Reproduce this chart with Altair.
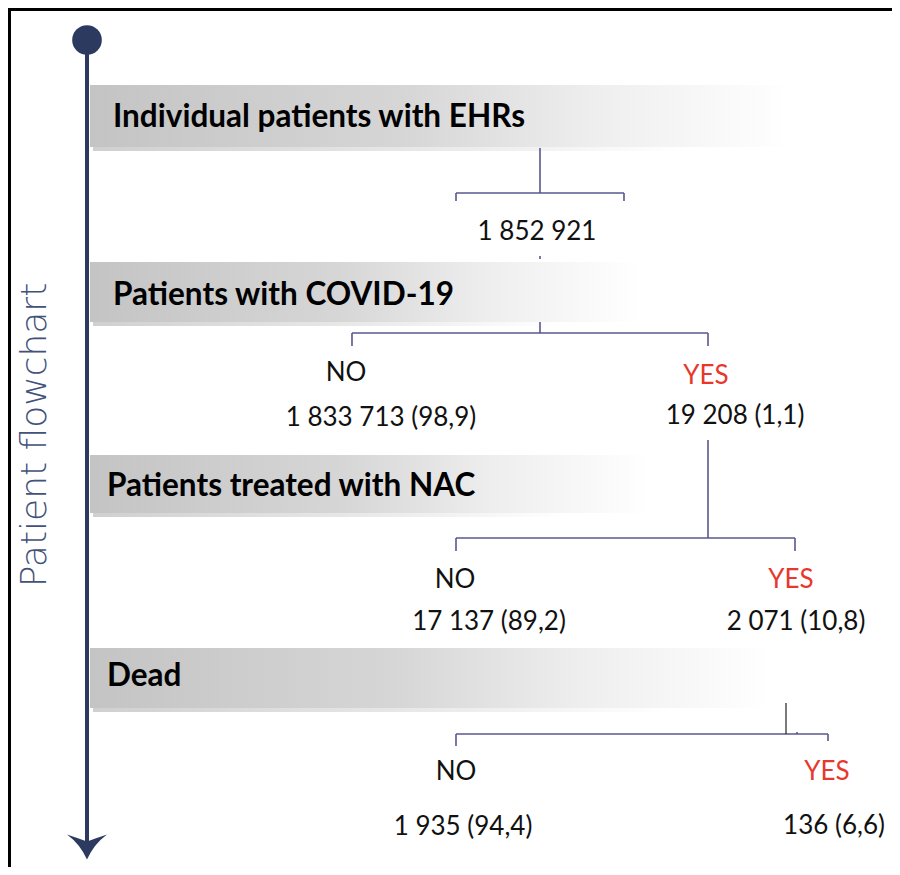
import altair as alt
import pandas as pd

# ---------------- content ----------------
steps = ["Individual patients with EHRs", "Patients with COVID-19",
         "Patients treated with NAC", "Dead"]
total_patients = 1852921
no_counts = [1833713, 17137, 1935]
no_pct = [98.9, 89.2, 94.4]
yes_counts = [19208, 2071, 136]
yes_pct = [1.1, 10.8, 6.6]
branch_labels = ["NO", "YES"]
side_title = "Patient flowchart"


def fmt_n(n):
    return f"{n:,}".replace(",", " ")


def fmt_p(p):
    return f"({p:.1f})".replace(".", ",")


# ---------------- layout (page pixel coordinates) ----------------
bar_top = [85, 262, 455, 648]
bar_bottom = [147, 322, 513, 708]
bar_left = 90
bar_right = [790, 640, 650, 770]
title_x = [113, 113, 107, 107]
title_y = [118, 296, 487, 677]

total_xy = (537, 232)
no_label_xy = [(346, 373), (455, 580), (456, 772)]
yes_label_xy = [(706, 376), (791, 580), (827, 772)]
no_count_xy = [(381, 418), (489, 622), (463, 827)]
yes_count_xy = [(735, 416), (796, 622), (834, 826)]

bracket_segments = [
    # bracket 1
    (540, 148, 540, 193), (456, 193, 624, 193), (456, 193, 456, 201), (624, 193, 624, 201),
    (540, 256, 540, 259),
    # bracket 2
    (540, 322, 540, 333), (352, 333, 708, 333), (352, 333, 352, 346), (708, 333, 708, 346),
    # bracket 3
    (708, 440, 708, 538), (456, 538, 795, 538), (456, 538, 456, 551), (795, 538, 795, 551),
    # bracket 4
    (456, 734, 828, 734), (456, 734, 456, 746), (828, 734, 828, 741), (797, 732, 797, 734),
]
black_stem = [(786, 703, 786, 734)]
border_rects = [(8, 8, 892, 11), (8, 8, 11, 867)]
axis_line = [(87, 40, 87, 848)]
circle_xy = [(87, 40)]
arrow_xy = [(87, 847)]
side_title_xy = (35, 435)

# ---------------- build tables ----------------
bars = pd.DataFrame({"x": [bar_left] * 4, "x2": bar_right, "y": bar_top, "y2": bar_bottom})
shadows = pd.DataFrame({"x": [bar_left + 3] * 4,
                        "x2": [bar_left + (r - bar_left) * 0.85 for r in bar_right],
                        "y": [b - 1 for b in bar_bottom],
                        "y2": [b + 4 for b in bar_bottom]})
titles = pd.DataFrame({"x": title_x, "y": title_y, "t": steps})

labels = []
for i in range(3):
    labels.append({"x": no_label_xy[i][0], "y": no_label_xy[i][1], "t": branch_labels[0], "k": "NO"})
    labels.append({"x": yes_label_xy[i][0], "y": yes_label_xy[i][1], "t": branch_labels[1], "k": "YES"})
labels = pd.DataFrame(labels)

counts = [{"x": total_xy[0], "y": total_xy[1], "t": fmt_n(total_patients)}]
for i in range(3):
    counts.append({"x": no_count_xy[i][0], "y": no_count_xy[i][1],
                   "t": f"{fmt_n(no_counts[i])} {fmt_p(no_pct[i])}"})
    counts.append({"x": yes_count_xy[i][0], "y": yes_count_xy[i][1],
                   "t": f"{fmt_n(yes_counts[i])} {fmt_p(yes_pct[i])}"})
counts = pd.DataFrame(counts)


def seg_df(segs):
    return pd.DataFrame(segs, columns=["x", "y", "x2", "y2"])


xs = alt.Scale(domain=[8, 892], zero=False, nice=False)
ys = alt.Scale(domain=[8, 867], zero=False, nice=False, reverse=True)
X = alt.X("x:Q", scale=xs, axis=None)
Y = alt.Y("y:Q", scale=ys, axis=None)
X2 = alt.X2("x2:Q")
Y2 = alt.Y2("y2:Q")

NAVY = "#2b3a5e"
BRACKET = "#58578e"
RED = "#e8372c"
TXT = "#111111"

bar_grad = alt.Gradient(
    gradient="linear", x1=0, x2=1, y1=0, y2=0,
    stops=[alt.GradientStop(offset=0, color="#c4c4c4"),
           alt.GradientStop(offset=0.45, color="#d6d6d6"),
           alt.GradientStop(offset=0.72, color="#eeeeee"),
           alt.GradientStop(offset=1, color="#ffffff")])
shadow_grad = alt.Gradient(
    gradient="linear", x1=0, x2=1, y1=0, y2=0,
    stops=[alt.GradientStop(offset=0, color="#a9a9a9"),
           alt.GradientStop(offset=0.6, color="#d9d9d9"),
           alt.GradientStop(offset=1, color="#ffffff")])

shadow_layer = alt.Chart(shadows).mark_rect(fill=shadow_grad, opacity=0.55).encode(x=X, x2=X2, y=Y, y2=Y2)
bar_layer = alt.Chart(bars).mark_rect(fill=bar_grad).encode(x=X, x2=X2, y=Y, y2=Y2)

border_layer = alt.Chart(seg_df(border_rects)).mark_rect(color="#000000", strokeWidth=0).encode(
    x=X, y=Y, x2=X2, y2=Y2)
line_layer = alt.Chart(seg_df(axis_line)).mark_rule(color=NAVY, strokeWidth=4).encode(
    x=X, y=Y, x2=X2, y2=Y2)
circle_layer = alt.Chart(pd.DataFrame(circle_xy, columns=["x", "y"])).mark_point(
    shape="circle", filled=True, size=880, color=NAVY, opacity=1).encode(x=X, y=Y)
arrow_path = ("M-1,-0.625 Q-0.35,-0.15 0,0.625 Q0.35,-0.15 1,-0.625 "
              "Q0.4,-0.42 0,-0.28 Q-0.4,-0.42 -1,-0.625 Z")
arrow_layer = alt.Chart(pd.DataFrame(arrow_xy, columns=["x", "y"])).mark_point(
    shape=arrow_path, filled=True, size=1600, color=NAVY, opacity=1).encode(x=X, y=Y)

bracket_layer = alt.Chart(seg_df(bracket_segments)).mark_rule(color=BRACKET, strokeWidth=1.6).encode(
    x=X, y=Y, x2=X2, y2=Y2)
stem_layer = alt.Chart(seg_df(black_stem)).mark_rule(color="#222222", strokeWidth=1.2).encode(
    x=X, y=Y, x2=X2, y2=Y2)

title_layer = alt.Chart(titles).mark_text(
    align="left", baseline="middle", font="Lato", fontWeight="bold", fontSize=31.5, color="#000000"
).encode(x=X, y=Y, text="t:N")

label_layer = alt.Chart(labels).mark_text(
    align="center", baseline="middle", font="Lato", fontSize=26
).encode(x=X, y=Y, text="t:N",
         color=alt.Color("k:N", scale=alt.Scale(domain=["NO", "YES"], range=[TXT, RED]), legend=None))

count_layer = alt.Chart(counts).mark_text(
    align="center", baseline="middle", font="Lato", fontSize=26, color=TXT
).encode(x=X, y=Y, text="t:N")

side_layer = alt.Chart(pd.DataFrame([{"x": side_title_xy[0], "y": side_title_xy[1], "t": side_title}])).mark_text(
    align="center", baseline="middle", angle=270, font="DejaVu Sans", fontWeight=200, fontSize=36,
    color="#42527a"
).encode(x=X, y=Y, text="t:N")

chart = alt.layer(
    shadow_layer, bar_layer, border_layer, line_layer, circle_layer, arrow_layer,
    bracket_layer, stem_layer, title_layer, label_layer, count_layer, side_layer
).properties(
    width=884, height=859, padding=0, autosize=alt.AutoSizeParams(type="none"),
    background="#ffffff"
).configure_view(stroke=None)

chart.save("out.html", embed_options={"renderer": "svg", "actions": False})
